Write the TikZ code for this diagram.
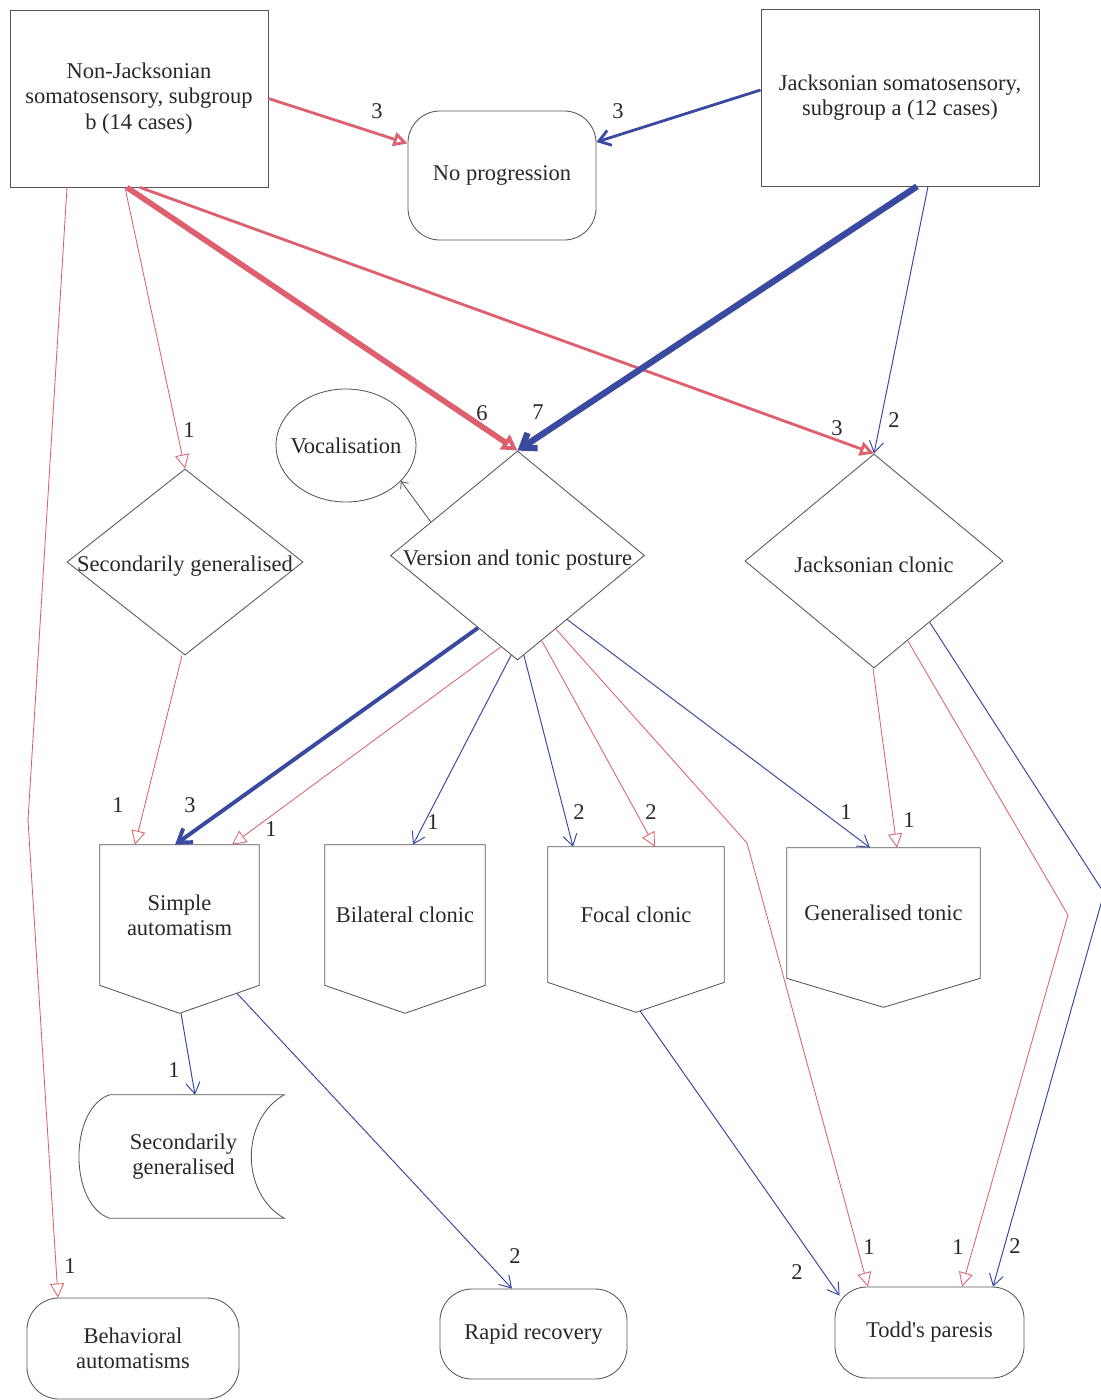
\documentclass[tikz,border=0pt]{standalone}
\usepackage{fontspec}
\setmainfont{Liberation Serif}
\usetikzlibrary{shapes.geometric,arrows.meta,calc}
\definecolor{edgered}{RGB}{222,96,110}
\definecolor{edgeblue}{RGB}{58,74,160}
\definecolor{outline}{RGB}{85,85,85}
\definecolor{ink}{RGB}{40,40,40}

% pentagon (off-page) outline around a rectangular text node
\newcommand\offpageoutline[2]{%
  \draw[shapeline] (#1.north west) -- (#1.north east) -- (#1.south east)
    -- ([shift={(0,#2)}]#1.south) -- (#1.south west) -- cycle;}

\begin{document}
\begin{tikzpicture}[x=0.025cm,y=-0.025cm,
  txt/.style={font=\fontsize{16}{18}\selectfont, text=ink, align=center},
  box/.style={txt, draw=outline, line width=0.6pt, rectangle, inner sep=0pt},
  rbox/.style={box, rounded corners=0.8cm},
  plain/.style={txt, rectangle, inner sep=0pt},
  dia/.style={draw=outline, line width=0.6pt, diamond, inner sep=0pt,
    label={[txt, inner sep=0pt, yshift=-3pt]center:#1}},
  oval/.style={draw=outline, line width=0.6pt, ellipse, inner sep=0pt,
    label={[txt, inner sep=0pt]center:#1}},
  shapeline/.style={draw=outline, line width=0.6pt},
  lab/.style={txt, inner sep=1pt},
  redthin/.style={draw=edgered, line width=0.6pt,
    -{Triangle[open, length=10pt, width=10pt]}},
  redmed/.style={draw=edgered, line width=2pt,
    -{Triangle[open, length=10pt, width=10pt]}},
  redthick/.style={draw=edgered, line width=4pt,
    -{Triangle[open, length=11pt, width=12pt]}},
  bluethin/.style={draw=edgeblue, line width=0.7pt,
    -{Straight Barb[length=8pt, width=10pt]}},
  bluemed/.style={draw=edgeblue, line width=2pt,
    -{Straight Barb[length=8pt, width=11pt]}},
  bluestrong/.style={draw=edgeblue, line width=2.8pt,
    -{Straight Barb[length=9pt, width=12pt]}},
  bluethick/.style={draw=edgeblue, line width=4.5pt,
    -{Straight Barb[length=9pt, width=13pt]}},
  plainarrow/.style={draw=outline, line width=0.6pt,
    -{Straight Barb[length=4pt, width=7pt]}},
]
\fill[white] (0,0) rectangle (1100,1400);
\useasboundingbox (0,0) rectangle (1100,1400);

% ---------- nodes ----------
\node[box, minimum width=6.45cm, minimum height=4.425cm] (nj) at (139,98.5)
  {Non-Jacksonian\\somatosensory, subgroup\\b (14 cases)};
\node[box, minimum width=6.95cm, minimum height=4.425cm] (j) at (900,97.5)
  {Jacksonian somatosensory,\\subgroup a (12 cases)};
\node[rbox, minimum width=4.7cm, minimum height=3.225cm] (np) at (502,175.5)
  {No progression};

\node[oval=Vocalisation, minimum width=3.5cm, minimum height=2.825cm] (voc) at (346,445.5) {};

\node[dia=Secondarily generalised, minimum width=5.9cm, minimum height=4.65cm] (sgd) at (185,562) {};
\node[dia=Version and tonic posture, minimum width=6.35cm, minimum height=5.225cm] (ver) at (517.5,555.5) {};
\node[dia=Jacksonian clonic, minimum width=6.45cm, minimum height=5.35cm] (jc) at (874,561) {};

\node[plain, minimum width=3.975cm, minimum height=3.5cm] (sa) at (179.5,915)
  {Simple\\automatism};
\offpageoutline{sa}{28}
\node[plain, minimum width=4.0cm, minimum height=3.5cm] (bc) at (405,915)
  {Bilateral clonic};
\offpageoutline{bc}{28}
\node[plain, minimum width=4.4cm, minimum height=3.375cm] (fc) at (636,914.5)
  {Focal clonic};
\offpageoutline{fc}{30}
\node[plain, minimum width=4.825cm, minimum height=3.25cm] (gt) at (883.5,913)
  {Generalised tonic};
\offpageoutline{gt}{29}

\node[plain, minimum width=5.025cm, minimum height=3.075cm] (sg) at (183.5,1156.5)
  {Secondarily\\generalised};
\draw[shapeline] ([shift={(27,0)}]sg.north west) -- (sg.north east)
  .. controls ([shift={(-44,25)}]sg.north east) and ([shift={(-44,-25)}]sg.south east) .. (sg.south east)
  -- ([shift={(27,0)}]sg.south west)
  .. controls ([shift={(-14,-14)}]sg.south west) and ([shift={(-14,14)}]sg.north west) .. cycle;

\node[rbox, minimum width=5.3cm, minimum height=2.525cm] (ba) at (133,1348.5)
  {Behavioral\\automatisms};
\node[rbox, minimum width=4.675cm, minimum height=2.25cm] (rr) at (533.5,1334)
  {Rapid recovery};
\node[rbox, minimum width=4.725cm, minimum height=2.275cm] (tp) at (929.5,1332.5)
  {Todd\textquotesingle s paresis};

% ---------- connectors ----------
% from the two somatosensory groups
\draw[redmed] (nj.east) -- ([shift={(0,-32)}]np.west);
\draw[bluemed] ([shift={(0,-7.5)}]j.west) -- ([shift={(0,-33.5)}]np.east);
\draw[redmed] ([shift={(1,0)}]nj.south) -- (jc.north);
\draw[redthick] ([shift={(-12,0)}]nj.south) -- (ver.north);
\draw[bluethick] ([shift={(17,0)}]j.south) -- (ver.north);
\draw[bluethin] ([shift={(28,0)}]j.south) -- (jc.north);
\draw[redthin] ([shift={(-14,0)}]nj.south) -- (sgd.north);
\coordinate (bend1) at (28,820);
\draw[redthin] ([shift={(-72,0)}]nj.south) -- (bend1) -- ([shift={(-75,0)}]ba.north);

% from the diamonds
\draw[redthin] ([shift={(-3,0)}]sgd.south) -- ([shift={(-44.5,0)}]sa.north);
\draw[plainarrow] ($(ver.north)!0.68!(ver.west)$) -- (voc.-33);
\draw[bluestrong] ($(ver.south)!0.31!(ver.west)$) -- ([shift={(-4.5,0)}]sa.north);
\draw[redthin] ($(ver.south)!0.13!(ver.west)$) -- ([shift={(52.5,0)}]sa.north);
\draw[bluethin] ($(ver.south)!0.05!(ver.west)$) -- ([shift={(8,0)}]bc.north);
\draw[bluethin] ($(ver.south)!0.05!(ver.east)$) -- ([shift={(-63,0)}]fc.north);
\draw[redthin] ($(ver.south)!0.19!(ver.east)$) -- ([shift={(19,0)}]fc.north);
\coordinate (bend2) at (747,843);
\draw[redthin] ($(ver.south)!0.3!(ver.east)$) -- (bend2) -- ([shift={(-61.5,0)}]tp.north);
\draw[bluethin] ($(ver.south)!0.39!(ver.east)$) -- ([shift={(-13.5,0)}]gt.north);
\draw[redthin] ([shift={(-1,0)}]jc.south) -- ([shift={(13.5,0)}]gt.north);
\coordinate (bend3) at (1068,915);
\draw[redthin] ($(jc.south)!0.26!(jc.east)$) -- (bend3) -- ([shift={(32.5,0)}]tp.north);
\coordinate (bend4) at (1104,893);
\draw[bluethin] ($(jc.south)!0.43!(jc.east)$) -- (bend4) -- ([shift={(63.5,0)}]tp.north);

% from the lower shapes
\draw[bluethin] ([shift={(1.5,28)}]sa.south) -- ([shift={(11.5,0)}]sg.north);
\draw[bluethin] ([shift={(57.5,8)}]sa.south) -- ([shift={(-21.5,0)}]rr.north);
\draw[bluethin] ([shift={(4,28.5)}]fc.south) -- ([shift={(5,9)}]tp.north west);

% ---------- counts ----------
\node[lab] (c1) at (377,111) {3};
\node[lab] (c2) at (618,111) {3};
\node[lab] (c3) at (482,413) {6};
\node[lab] (c4) at (538,412) {7};
\node[lab] (c5) at (837,428) {3};
\node[lab] (c6) at (894,420) {2};
\node[lab] (c7) at (189,430) {1};
\node[lab] (c8) at (70,1266) {1};
\node[lab] (c9) at (118,805) {1};
\node[lab] (c10) at (190,805) {3};
\node[lab] (c11) at (271,829) {1};
\node[lab] (c12) at (433,822) {1};
\node[lab] (c13) at (579,812) {2};
\node[lab] (c14) at (651,812) {2};
\node[lab] (c15) at (846,812) {1};
\node[lab] (c16) at (909,820) {1};
\node[lab] (c17) at (174,1070) {1};
\node[lab] (c18) at (515,1256) {2};
\node[lab] (c19) at (797,1272) {2};
\node[lab] (c20) at (869,1247) {1};
\node[lab] (c21) at (958,1247) {1};
\node[lab] (c22) at (1015,1246) {2};
\end{tikzpicture}
\end{document}
